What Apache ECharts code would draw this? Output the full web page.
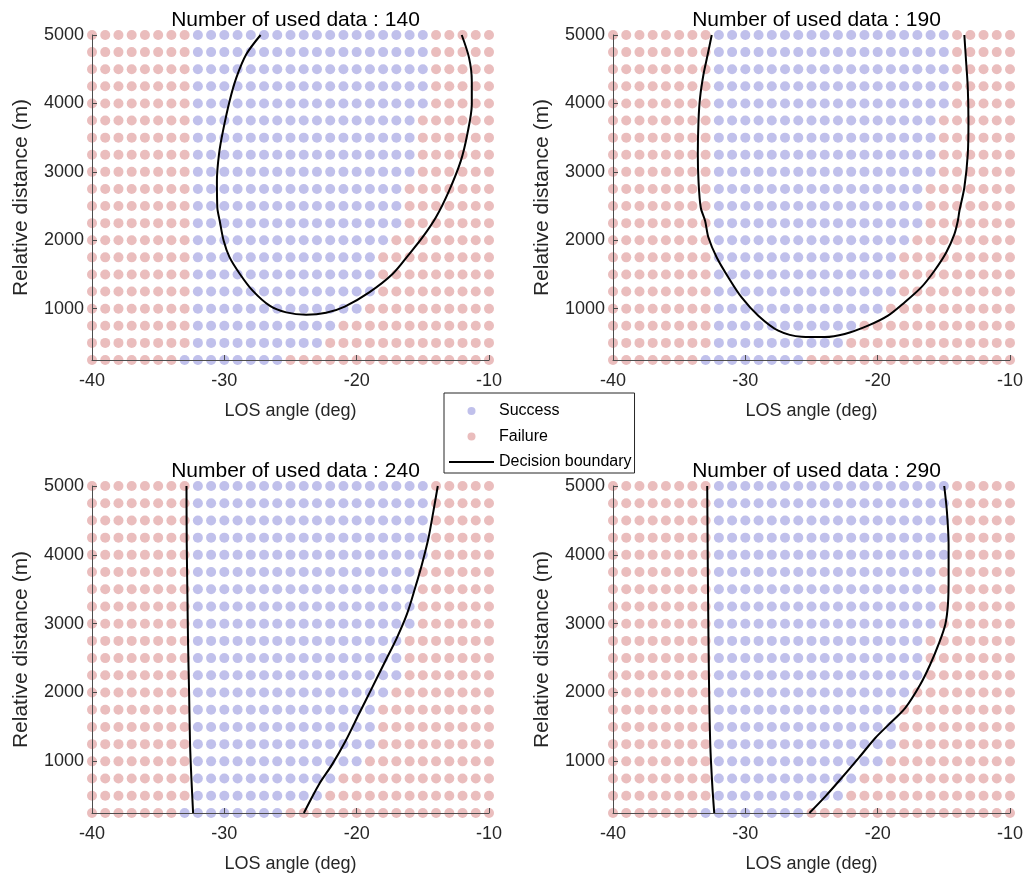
<!DOCTYPE html>
<html><head><meta charset="utf-8">
<script src="https://cdn.jsdelivr.net/npm/echarts@6/dist/echarts.min.js"></script>
<style>html,body{margin:0;padding:0;background:#fff}#c{width:1027px;height:879px}</style>
</head><body><div id="c"></div>
<script>
// ---- data ----
const losAngles = [-40,-39,-38,-37,-36,-35,-34,-33,-32,-31,-30,-29,-28,-27,-26,-25,-24,-23,-22,-21,-20,-19,-18,-17,-16,-15,-14,-13,-12,-11,-10];
const distances = [5000,4750,4500,4250,4000,3750,3500,3250,3000,2750,2500,2250,2000,1750,1500,1250,1000,750,500,250];
const xTicks = [-40,-30,-20,-10];
const yTicks = [1000,2000,3000,4000,5000];
const usedData = [140,190,240,290];
// S = success, F = failure, one char per LOS angle column (spaces ignored)
const outcomeRows = [
  "FFFFF FFFSS SSSSS SSSSS SSSSS SFFFF F", // 5000
  "FFFFF FFFSS SSSSS SSSSS SSSSS SFFFF F", // 4750
  "FFFFF FFFSS SSSSS SSSSS SSSSS SFFFF F", // 4500
  "FFFFF FFFSS SSSSS SSSSS SSSSS SFFFF F", // 4250
  "FFFFF FFFSS SSSSS SSSSS SSSSS SFFFF F", // 4000
  "FFFFF FFFSS SSSSS SSSSS SSSSS FFFFF F", // 3750
  "FFFFF FFFSS SSSSS SSSSS SSSSS FFFFF F", // 3500
  "FFFFF FFFSS SSSSS SSSSS SSSSS FFFFF F", // 3250
  "FFFFF FFFSS SSSSS SSSSS SSSSS FFFFF F", // 3000
  "FFFFF FFFSS SSSSS SSSSS SSSSF FFFFF F", // 2750
  "FFFFF FFFSS SSSSS SSSSS SSSSF FFFFF F", // 2500
  "FFFFF FFFSS SSSSS SSSSS SSSSF FFFFF F", // 2250
  "FFFFF FFFSS SSSSS SSSSS SSSFF FFFFF F", // 2000
  "FFFFF FFFSS SSSSS SSSSS SSFFF FFFFF F", // 1750
  "FFFFF FFFSS SSSSS SSSSS SSFFF FFFFF F", // 1500
  "FFFFF FFFSS SSSSS SSSSS SSFFF FFFFF F", // 1250
  "FFFFF FFFSS SSSSS SSSSS SFFFF FFFFF F", // 1000
  "FFFFF FFFSS SSSSS SSSSF FFFFF FFFFF F", // 750
  "FFFFF FFFSS SSSSS SSSFF FFFFF FFFFF F", // 500
  "FFFFF FFSSS SSSSS FFFFF FFFFF FFFFF F"  // 250
];
const boundary140 = [[-27.26,5000],[-28.34,4718],[-29.09,4377],[-29.60,4036],[-30.10,3598],[-30.40,3263],[-30.56,2869],[-30.53,2479],[-30.35,2285],[-30.05,1993],[-29.60,1749],[-28.84,1511],[-27.86,1263],[-26.58,1044],[-25.32,946],[-23.82,912],[-22.31,940],[-20.90,1030],[-19.05,1238],[-17.29,1506],[-16.03,1798],[-15.03,2041],[-14.02,2333],[-13.02,2723],[-12.13,3161],[-11.64,3550],[-11.30,3988],[-11.30,4328],[-11.51,4669],[-12.06,5000]];
const boundary190 = [[-32.54,5000],[-32.84,4718],[-33.16,4426],[-33.42,4085],[-33.54,3744],[-33.59,3258],[-33.54,2869],[-33.37,2479],[-33.04,2285],[-32.79,2041],[-32.16,1749],[-31.28,1457],[-30.28,1165],[-29.02,898],[-27.51,679],[-25.75,590],[-24.00,585],[-22.49,630],[-20.73,752],[-19.22,898],[-17.97,1092],[-16.71,1311],[-15.71,1555],[-14.82,1822],[-14.20,2091],[-13.94,2285],[-13.82,2431],[-13.45,2771],[-13.19,3258],[-13.14,3744],[-13.19,4231],[-13.32,4620],[-13.45,5000]];
const boundary240Left = [[-32.86,5000],[-32.84,4152],[-32.79,3425],[-32.74,2698],[-32.66,1971],[-32.59,1243],[-32.49,759],[-32.36,250]];
const boundary240Right = [[-13.87,5000],[-14.20,4636],[-14.57,4249],[-15.07,3861],[-15.58,3522],[-16.21,3134],[-16.96,2795],[-17.84,2455],[-18.84,2068],[-19.85,1680],[-20.85,1292],[-21.86,953],[-22.86,662],[-23.99,250]];
const boundary290Left = [[-32.88,5000],[-32.83,3667],[-32.75,2213],[-32.65,1243],[-32.50,662],[-32.35,250]];
const boundary290Right = [[-14.97,5000],[-14.77,4636],[-14.64,4152],[-14.64,3667],[-14.69,3280],[-14.89,2989],[-15.40,2698],[-16.03,2407],[-16.78,2116],[-17.91,1777],[-19.17,1534],[-20.18,1340],[-21.43,1050],[-22.94,711],[-23.95,492],[-25.16,250]];
const boundaries = [[boundary140],[boundary190],[boundary240Left,boundary240Right],[boundary290Left,boundary290Right]];

// ---- chart ----
const FONT = '"Liberation Sans", Arial, Helvetica, sans-serif';
const SUCCESS = '#b0b0e6', FAILURE = '#e5adad', AXIS = '#4d4d4d', TXT = '#262626';
const grids = [
  {left:92, top:35, width:397, height:325},
  {left:613, top:35, width:397, height:325},
  {left:92, top:486, width:397, height:327},
  {left:613, top:486, width:397, height:327}
];
const success = [], failure = [];
outcomeRows.forEach((row, r) => {
  const cells = row.replace(/ /g, '');
  for (let c = 0; c < losAngles.length; c++) {
    (cells[c] === 'S' ? success : failure).push([losAngles[c], distances[r]]);
  }
});

const xAxes = [], yAxes = [], series = [], titles = [];
grids.forEach((g, i) => {
  titles.push({
    text: 'Number of used data : ' + usedData[i],
    left: g.left + g.width / 2, top: g.top - 30, textAlign: 'center',
    textStyle: {fontFamily: FONT, fontSize: 21, fontWeight: 'normal', color: '#000'}
  });
  xAxes.push({
    gridIndex: i, type: 'value', min: xTicks[0], max: xTicks[xTicks.length - 1], interval: 10, z: 5,
    name: 'LOS angle (deg)', nameLocation: 'middle', nameGap: 42,
    nameTextStyle: {fontFamily: FONT, fontSize: 18, color: TXT},
    axisLine: {show: true, onZero: false, lineStyle: {color: AXIS, width: 1}},
    axisTick: {show: true, inside: true, length: 5, lineStyle: {color: AXIS}},
    axisLabel: {fontFamily: FONT, fontSize: 18, color: TXT, margin: 12, formatter: v => String(v)},
    splitLine: {show: false}
  });
  yAxes.push({
    gridIndex: i, type: 'value', min: distances[distances.length - 1], max: distances[0], z: 5,
    name: 'Relative distance (m)', nameLocation: 'middle', nameGap: 60,
    nameTextStyle: {fontFamily: FONT, fontSize: 21, color: TXT},
    axisLine: {show: true, onZero: false, lineStyle: {color: AXIS, width: 1}},
    axisTick: {show: true, inside: true, length: 5, lineStyle: {color: AXIS}, customValues: yTicks},
    axisLabel: {fontFamily: FONT, fontSize: 18, color: TXT, margin: 8, customValues: yTicks, formatter: v => String(v)},
    splitLine: {show: false}
  });
  series.push({
    name: 'Success', type: 'scatter', xAxisIndex: i, yAxisIndex: i, data: success,
    symbol: 'circle', symbolSize: 10, itemStyle: {color: SUCCESS}, z: 2, clip: false
  });
  series.push({
    name: 'Failure', type: 'scatter', xAxisIndex: i, yAxisIndex: i, data: failure,
    symbol: 'circle', symbolSize: 10, itemStyle: {color: FAILURE}, z: 2, clip: false
  });
  boundaries[i].forEach(b => {
    series.push({
      name: 'Decision boundary', type: 'line', xAxisIndex: i, yAxisIndex: i, data: b,
      symbol: 'none', showSymbol: false, smooth: 0.3, z: 6,
      lineStyle: {color: '#000', width: 2}, itemStyle: {color: '#000'}
    });
  });
});

const chart = echarts.init(document.getElementById('c'), null, {renderer: 'canvas'});
chart.setOption({
  animation: false,
  backgroundColor: '#fff',
  title: titles,
  grid: grids,
  xAxis: xAxes,
  yAxis: yAxes,
  legend: {
    orient: 'vertical', left: 444, top: 393,
    itemWidth: 45, itemHeight: 8, itemGap: 9.5,
    padding: [10, 3, 3, 4],
    borderColor: '#262626', borderWidth: 1, backgroundColor: '#fff',
    textStyle: {fontFamily: FONT, fontSize: 16, color: '#000'},
    data: [
      {name: 'Success', icon: 'circle'},
      {name: 'Failure', icon: 'circle'},
      {name: 'Decision boundary', itemStyle: {color: 'rgba(0,0,0,0)', borderWidth: 0}}
    ]
  },
  series: series
});
</script>
</body></html>
